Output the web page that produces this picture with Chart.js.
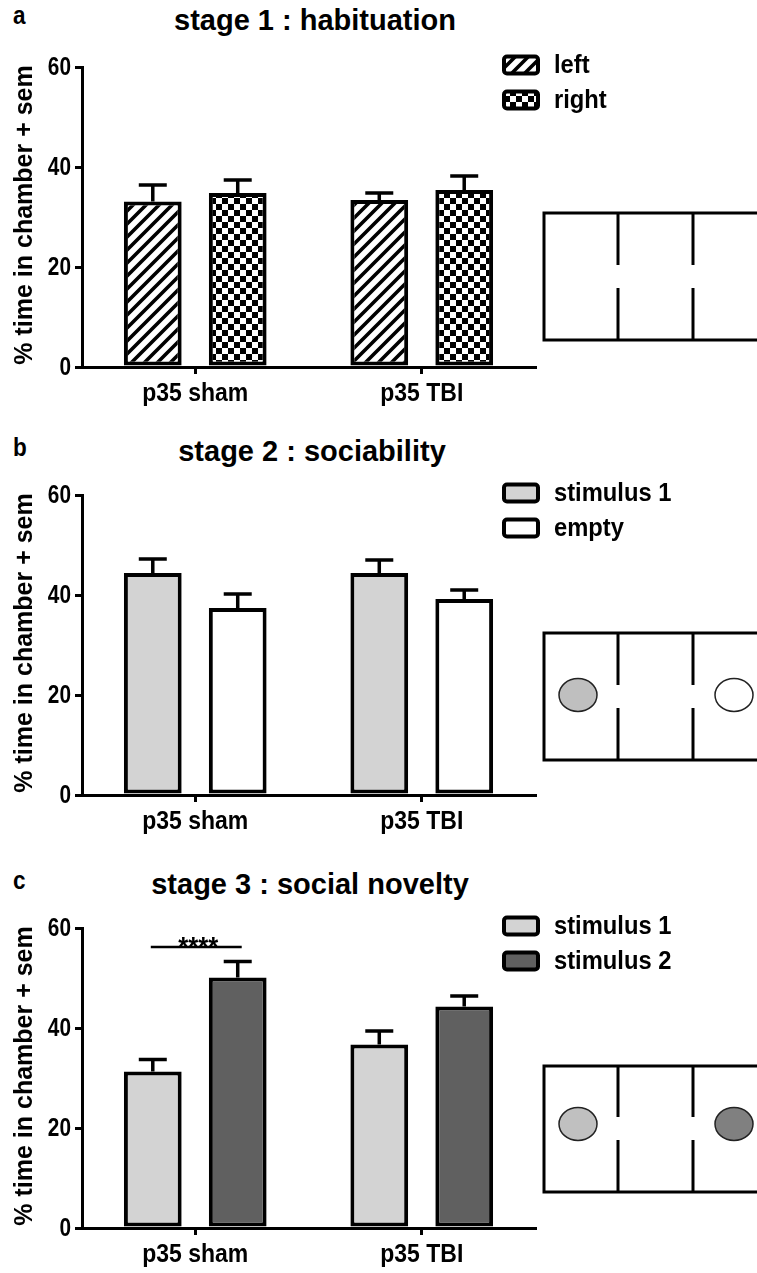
<!DOCTYPE html>
<html><head><meta charset="utf-8">
<script src="https://cdn.jsdelivr.net/npm/chart.js@4.4.1/dist/chart.umd.min.js"></script>
<style>
html,body{margin:0;padding:0;background:#fff;}
body{width:757px;height:1273px;overflow:hidden;position:relative;}
canvas.panel{position:absolute;left:0;}
.letter{position:absolute;font:bold 25px "Liberation Sans",Arial,sans-serif;color:#000;line-height:1;transform:scaleX(0.9);transform-origin:0 0;}
.title{position:absolute;font:bold 29px "Liberation Sans",Arial,sans-serif;color:#000;white-space:nowrap;transform:translateX(-50%);line-height:1;}
svg{position:absolute;left:0;top:0;}
</style></head>
<body>
<div class="letter" style="left:13px;top:3px">a</div>
<div class="title" style="left:315px;top:6px">stage 1 : habituation</div>
<div class="letter" style="left:13px;top:435px">b</div>
<div class="title" style="left:312px;top:437px">stage 2 : sociability</div>
<div class="letter" style="left:13px;top:868px">c</div>
<div class="title" style="left:310px;top:870px">stage 3 : social novelty</div>

<canvas class="panel" id="cA" width="757" height="412" style="top:0px"></canvas>
<canvas class="panel" id="cB" width="757" height="412" style="top:428px"></canvas>
<canvas class="panel" id="cC" width="757" height="412" style="top:861px"></canvas>

<svg width="757" height="1273" viewBox="0 0 757 1273">
  <g fill="none" stroke="#000" stroke-width="3">
    <polyline points="770,213 544,213 544,340 770,340"/>
    <line x1="618" y1="213" x2="618" y2="265"/><line x1="618" y1="288" x2="618" y2="340"/>
    <line x1="693" y1="213" x2="693" y2="265"/><line x1="693" y1="288" x2="693" y2="340"/>
  </g>
  <g fill="none" stroke="#000" stroke-width="3">
    <polyline points="770,633 544,633 544,760 770,760"/>
    <line x1="618" y1="633" x2="618" y2="685"/><line x1="618" y1="708" x2="618" y2="760"/>
    <line x1="693" y1="633" x2="693" y2="685"/><line x1="693" y1="708" x2="693" y2="760"/>
  </g>
  <ellipse cx="578" cy="695" rx="19" ry="16.5" fill="#bfbfbf" stroke="#222" stroke-width="1.5"/>
  <ellipse cx="734" cy="695" rx="19" ry="16.5" fill="#fff" stroke="#222" stroke-width="1.5"/>
  <g fill="none" stroke="#000" stroke-width="3">
    <polyline points="770,1066 544,1066 544,1192 770,1192"/>
    <line x1="618" y1="1066" x2="618" y2="1117"/><line x1="618" y1="1140" x2="618" y2="1192"/>
    <line x1="693" y1="1066" x2="693" y2="1117"/><line x1="693" y1="1140" x2="693" y2="1192"/>
  </g>
  <ellipse cx="578" cy="1124" rx="19" ry="16.5" fill="#c0c0c0" stroke="#222" stroke-width="1.5"/>
  <ellipse cx="734" cy="1124" rx="19" ry="16.5" fill="#808080" stroke="#222" stroke-width="1.5"/>
</svg>

<script>
// ---------- data ----------
const categories = ['p35 sham', 'p35 TBI'];
const yMin = 0, yMax = 60, yStep = 20;
const yTitle = '% time in chamber + sem';

const habLeft = [33.1, 33.4];
const habLeftSem = [3.3, 1.4];
const habRight = [34.8, 35.4];
const habRightSem = [2.6, 2.8];

const socStim1 = [44.4, 44.4];
const socStim1Sem = [2.8, 2.6];
const socEmpty = [37.4, 39.2];
const socEmptySem = [2.8, 1.8];

const novStim1 = [31.3, 36.7];
const novStim1Sem = [2.4, 2.7];
const novStim2 = [50.1, 44.3];
const novStim2Sem = [3.2, 2.1];

const novSigLabel = '****';
const novSigCategory = 0;   // p35 sham
const novSigLevel = 56.2;

// ---------- fonts / patterns ----------
const FAM = '"Liberation Sans",Arial,sans-serif';
Chart.defaults.font.family = FAM;
Chart.defaults.font.weight = 'bold';
Chart.defaults.color = '#000';

function text(ctx, str, x, y, size, align, baseline, sx) {
  ctx.save();
  ctx.translate(x, y);
  ctx.scale(sx || 1, 1);
  ctx.font = 'bold ' + size + 'px ' + FAM;
  ctx.textAlign = align; ctx.textBaseline = baseline;
  ctx.fillStyle = '#000';
  ctx.fillText(str, 0, 0);
  ctx.restore();
}

function stripePattern() {
  const s = 13, c = document.createElement('canvas');
  c.width = s; c.height = s;
  const g = c.getContext('2d');
  g.fillStyle = '#fff'; g.fillRect(0, 0, s, s);
  g.strokeStyle = '#000'; g.lineWidth = 3.6;
  g.beginPath();
  g.moveTo(-s, 2 * s); g.lineTo(2 * s, -s);
  g.moveTo(-s, s); g.lineTo(s, -s);
  g.moveTo(0, 2 * s); g.lineTo(2 * s, 0);
  g.stroke();
  return g.createPattern(c, 'repeat');
}
function checkerPattern() {
  const q = 6, c = document.createElement('canvas');
  c.width = 2 * q; c.height = 2 * q;
  const g = c.getContext('2d');
  g.fillStyle = '#fff'; g.fillRect(0, 0, 2 * q, 2 * q);
  g.fillStyle = '#000';
  g.fillRect(0, 0, q, q); g.fillRect(q, q, q, q);
  return g.createPattern(c, 'repeat');
}

// ---------- plugins ----------
const axisText = {
  id: 'axisText',
  afterDraw(chart) {
    const ctx = chart.ctx, a = chart.chartArea, xs = chart.scales.x, ys = chart.scales.y;
    ys.ticks.forEach((t, i) => {
      text(ctx, String(t.value), a.left - 11, ys.getPixelForTick(i) + 1, 26, 'right', 'middle', 0.8);
    });
    xs.ticks.forEach((t, i) => {
      text(ctx, chart.data.labels[t.value], xs.getPixelForTick(i), a.bottom + 34, 25, 'center', 'alphabetic', 0.92);
    });
    ctx.save();
    ctx.translate(25, (a.top + a.bottom) / 2 - 2);
    ctx.rotate(-Math.PI / 2);
    ctx.font = 'bold 25px ' + FAM;
    ctx.textAlign = 'center'; ctx.textBaseline = 'middle'; ctx.fillStyle = '#000';
    ctx.fillText(yTitle, 0, 0);
    ctx.restore();
  }
};

const errorBars = {
  id: 'errorBars',
  afterDatasetsDraw(chart) {
    const ctx = chart.ctx, y = chart.scales.y;
    ctx.save();
    ctx.strokeStyle = '#000'; ctx.lineWidth = 3.5; ctx.lineCap = 'butt';
    chart.data.datasets.forEach((ds, i) => {
      const meta = chart.getDatasetMeta(i);
      meta.data.forEach((bar, j) => {
        const top = y.getPixelForValue(ds.data[j] + ds.sem[j]);
        ctx.beginPath();
        ctx.moveTo(bar.x, bar.y); ctx.lineTo(bar.x, top);
        ctx.moveTo(bar.x - 14, top); ctx.lineTo(bar.x + 14, top);
        ctx.stroke();
      });
    });
    ctx.restore();
  }
};

const sideLegend = {
  id: 'sideLegend',
  afterDraw(chart) {
    const ctx = chart.ctx, a = chart.chartArea;
    ctx.save();
    chart.data.datasets.forEach((ds, i) => {
      const cy = a.top - 2 + i * 35;
      const x = a.right - 31, w = 34, h = 17;
      ctx.beginPath();
      ctx.roundRect(x, cy - h / 2, w, h, 3);
      ctx.fillStyle = ds.backgroundColor; ctx.fill();
      ctx.lineWidth = 4; ctx.strokeStyle = '#000'; ctx.stroke();
      text(ctx, ds.label, a.right + 19, cy + 1, 25, 'left', 'middle', 0.95);
    });
    ctx.restore();
  }
};

const sigBar = {
  id: 'sigBar',
  afterDraw(chart, args, opts) {
    if (!opts || !opts.text) return;
    const ctx = chart.ctx, y = chart.scales.y;
    const m0 = chart.getDatasetMeta(0).data[opts.category];
    const m1 = chart.getDatasetMeta(1).data[opts.category];
    const py = y.getPixelForValue(opts.level);
    ctx.save();
    ctx.strokeStyle = '#000'; ctx.lineWidth = 2.5;
    ctx.beginPath(); ctx.moveTo(m0.x - 2, py); ctx.lineTo(m1.x + 4, py); ctx.stroke();
    ctx.restore();
    text(ctx, opts.text, (m0.x + m1.x) / 2 + 3, py + 9, 27, 'center', 'alphabetic', 0.95);
  }
};

function makeChart(id, sets, sig) {
  return new Chart(document.getElementById(id), {
    type: 'bar',
    data: {
      labels: categories,
      datasets: sets.map(s => ({
        label: s.label, data: s.data, sem: s.sem,
        backgroundColor: s.fill, borderColor: '#000', borderWidth: 4,
        borderSkipped: false, categoryPercentage: 0.75, barPercentage: 0.68
      }))
    },
    options: {
      responsive: false, animation: false, devicePixelRatio: 1,
      layout: { padding: { left: 0, right: 222, top: 67, bottom: 0 } },
      plugins: {
        legend: { display: false }, tooltip: { enabled: false }, title: { display: false },
        sigBar: sig || {}
      },
      scales: {
        x: {
          grid: { offset: false, drawOnChartArea: false, drawTicks: true, tickLength: 7, lineWidth: 3, color: '#000' },
          border: { display: true, width: 3, color: '#000' },
          ticks: { display: false },
          afterFit(s) { s.height = 45; }
        },
        y: {
          min: yMin, max: yMax,
          ticks: { stepSize: yStep, display: false },
          grid: { drawOnChartArea: false, tickLength: 7, lineWidth: 3, color: '#000' },
          border: { display: true, width: 3, color: '#000' },
          afterFit(s) { s.width = 82; }
        }
      }
    },
    plugins: [errorBars, axisText, sideLegend, sigBar]
  });
}

const stripes = stripePattern(), checks = checkerPattern();

makeChart('cA', [
  { label: 'left', data: habLeft, sem: habLeftSem, fill: stripes },
  { label: 'right', data: habRight, sem: habRightSem, fill: checks }
]);
makeChart('cB', [
  { label: 'stimulus 1', data: socStim1, sem: socStim1Sem, fill: '#d3d3d3' },
  { label: 'empty', data: socEmpty, sem: socEmptySem, fill: '#ffffff' }
]);
makeChart('cC', [
  { label: 'stimulus 1', data: novStim1, sem: novStim1Sem, fill: '#d3d3d3' },
  { label: 'stimulus 2', data: novStim2, sem: novStim2Sem, fill: '#606060' }
], { text: novSigLabel, category: novSigCategory, level: novSigLevel });
</script>
</body></html>
